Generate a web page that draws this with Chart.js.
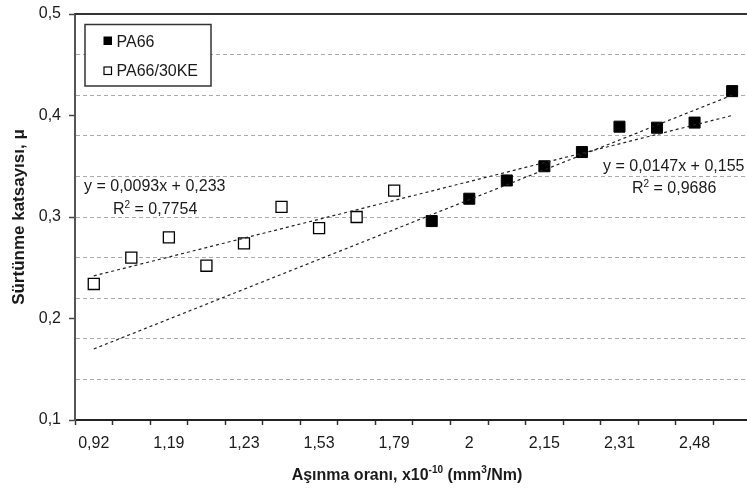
<!DOCTYPE html>
<html>
<head>
<meta charset="utf-8">
<script src="https://cdn.jsdelivr.net/npm/chart.js@4.4.1/dist/chart.umd.min.js"></script>
<style>
  html, body { margin: 0; padding: 0; background: #fff; overflow: hidden; }
  #wrap { width: 760px; height: 488px; position: relative; }
</style>
</head>
<body>
<div id="wrap"><canvas id="chart"></canvas></div>
<script>
// 18 x slots, only every second wear rate is written on the axis
const categories = ['0,92', '', '1,19', '', '1,23', '', '1,53', '', '1,79', '',
                    '2', '', '2,15', '', '2,31', '', '2,48', ''];

const pa66_30ke = [0.234, 0.260, 0.280, 0.252, 0.274, 0.310, 0.289, 0.300, 0.326,
                   null, null, null, null, null, null, null, null, null];
const pa66 = [null, null, null, null, null, null, null, null, null,
              0.296, 0.318, 0.336, 0.350, 0.364, 0.389, 0.388, 0.393, 0.424];

// trend lines (first and last slot, gap spanned)
const trend30ke = [0.242, null, null, null, null, null, null, null, null,
                   null, null, null, null, null, null, null, null, 0.400];
const trendPa66 = [0.170, null, null, null, null, null, null, null, null,
                   null, null, null, null, null, null, null, null, 0.420];

const yLabelValues = [0.1, 0.2, 0.3, 0.4, 0.5];
const yGridValues = [0.14, 0.18, 0.22, 0.26, 0.3, 0.34, 0.38, 0.42, 0.46];

const FONT = '"Liberation Sans", Arial, sans-serif';
const TEXT = '#1a1a1a';

function drawParts(ctx, x, y, parts, align) {
  // parts: [text, size, bold, rise]
  let w = 0;
  parts.forEach(p => {
    ctx.font = (p[2] ? 'bold ' : '') + p[1] + 'px ' + FONT;
    w += ctx.measureText(p[0]).width;
  });
  let cx = align === 'center' ? x - w / 2 : x;
  ctx.textAlign = 'left';
  ctx.textBaseline = 'alphabetic';
  parts.forEach(p => {
    ctx.font = (p[2] ? 'bold ' : '') + p[1] + 'px ' + FONT;
    ctx.fillText(p[0], cx, y - (p[3] || 0));
    cx += ctx.measureText(p[0]).width;
  });
}

const extras = {
  id: 'extras',
  afterDraw(chart) {
    const ctx = chart.ctx;
    const area = chart.chartArea;
    ctx.save();

    // top frame line
    ctx.strokeStyle = '#333';
    ctx.lineWidth = 2;
    ctx.beginPath();
    ctx.moveTo(area.left, area.top);
    ctx.lineTo(area.right, area.top);
    ctx.stroke();

    // legend box
    ctx.fillStyle = '#fff';
    ctx.fillRect(85, 24.5, 126, 61.5);
    ctx.strokeStyle = '#333';
    ctx.lineWidth = 1.5;
    ctx.strokeRect(85, 24.5, 126, 61.5);
    ctx.fillStyle = '#000';
    ctx.fillRect(103.5, 36.5, 8.5, 8.5);
    ctx.lineWidth = 1.2;
    ctx.strokeStyle = '#000';
    ctx.fillStyle = '#fff';
    ctx.fillRect(104, 67, 7.5, 7.5);
    ctx.strokeRect(104, 67, 7.5, 7.5);
    ctx.fillStyle = TEXT;
    drawParts(ctx, 116.5, 46.5, [['PA66', 16]]);
    drawParts(ctx, 116.5, 75.5, [['PA66/30KE', 16]]);

    // trend equations
    drawParts(ctx, 84, 191, [['y = 0,0093x + 0,233', 16]]);
    drawParts(ctx, 113, 213.5, [['R', 16], ['2', 10, false, 6], [' = 0,7754', 16]]);
    drawParts(ctx, 603, 171, [['y = 0,0147x + 0,155', 16]]);
    drawParts(ctx, 632, 193, [['R', 16], ['2', 10, false, 6], [' = 0,9686', 16]]);

    // axis titles
    drawParts(ctx, 407, 479.5, [['Aşınma oranı, x10', 16, true], ['-10', 10, true, 7],
      [' (mm', 16, true], ['3', 10, true, 7], ['/Nm)', 16, true]], 'center');
    ctx.translate(19, 217);
    ctx.rotate(-Math.PI / 2);
    ctx.font = 'bold 17px ' + FONT;
    ctx.textAlign = 'center';
    ctx.textBaseline = 'middle';
    ctx.fillText('Sürtünme katsayısı, μ', 0, 0);
    ctx.restore();
  }
};

new Chart(document.getElementById('chart'), {
  type: 'line',
  data: {
    labels: categories,
    datasets: [
      {
        label: 'trend PA66/30KE',
        data: trend30ke,
        borderColor: '#222',
        borderWidth: 1.2,
        borderDash: [3, 3],
        spanGaps: true,
        pointRadius: 0
      },
      {
        label: 'trend PA66',
        data: trendPa66,
        borderColor: '#222',
        borderWidth: 1.2,
        borderDash: [3, 3],
        spanGaps: true,
        pointRadius: 0
      },
      {
        label: 'PA66/30KE',
        data: pa66_30ke,
        showLine: false,
        pointStyle: 'rect',
        pointRadius: 7.8,
        pointBackgroundColor: '#fff',
        pointBorderColor: '#000',
        pointBorderWidth: 1.3
      },
      {
        label: 'PA66',
        data: pa66,
        showLine: false,
        pointStyle: 'rect',
        pointRadius: 7.8,
        pointBackgroundColor: '#000',
        pointBorderColor: '#000',
        pointBorderWidth: 1
      }
    ]
  },
  options: {
    responsive: true,
    maintainAspectRatio: false,
    animation: false,
    layout: { padding: { top: 14, right: 5, left: 0, bottom: 0 } },
    plugins: {
      legend: { display: false },
      tooltip: { enabled: false }
    },
    scales: {
      x: {
        type: 'category',
        offset: true,
        afterFit: scale => { scale.height = 68; },
        grid: {
          offset: true,
          drawOnChartArea: false,
          tickLength: 5,
          tickColor: '#333',
          tickWidth: 1.5
        },
        border: { color: '#222', width: 2 },
        ticks: {
          autoSkip: false,
          maxRotation: 0,
          padding: 9,
          color: TEXT,
          font: { family: FONT, size: 16 }
        }
      },
      y: {
        min: 0.1,
        max: 0.5,
        afterFit: scale => {
          scale.width = 75;
          scale.paddingTop = 0;
          scale.paddingBottom = 0;
        },
        afterBuildTicks: scale => {
          scale.ticks = yLabelValues.concat(yGridValues.filter(v => !yLabelValues.includes(v)))
            .sort((a, b) => a - b).map(v => ({ value: v }));
        },
        grid: {
          color: ctx => yGridValues.includes(ctx.tick && ctx.tick.value) ? '#aaa' : 'rgba(0,0,0,0)',
          tickColor: ctx => yLabelValues.includes(ctx.tick && ctx.tick.value) ? '#444' : 'rgba(0,0,0,0)',
          tickLength: 6,
          tickWidth: 1.5,
          lineWidth: 1
        },
        border: { color: '#555', width: 2, dash: [4, 3] },
        ticks: {
          padding: 8,
          color: TEXT,
          font: { family: FONT, size: 16 },
          callback: v => yLabelValues.includes(v) ? v.toFixed(1).replace('.', ',') : ''
        }
      }
    }
  },
  plugins: [extras]
});
</script>
</body>
</html>
